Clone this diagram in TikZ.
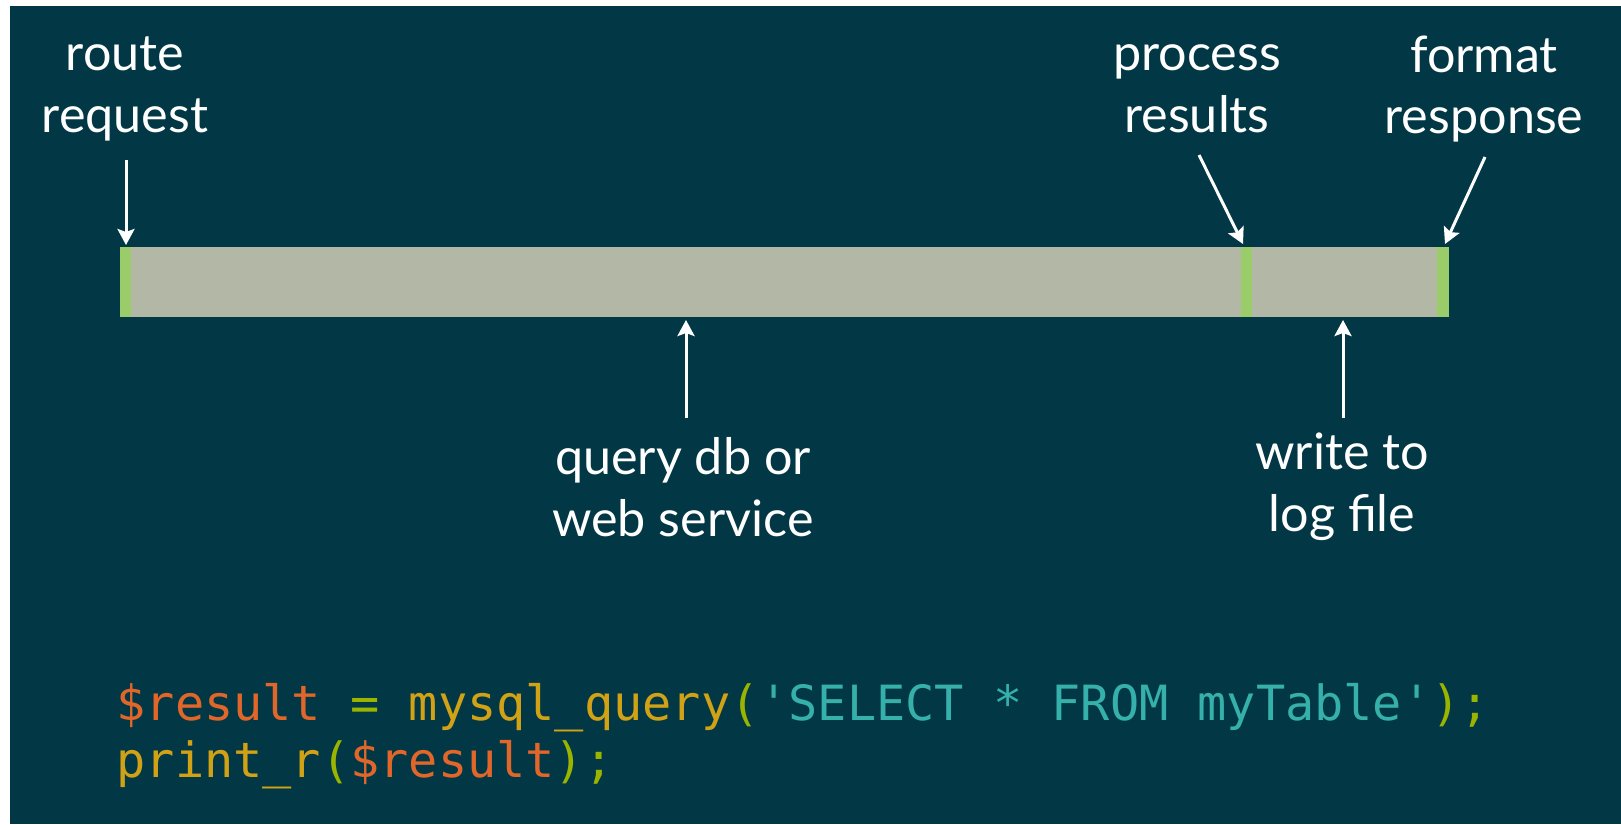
\documentclass[tikz,border=0pt]{standalone}
\usepackage{fontspec}
\setmainfont{Lato}
\setmonofont{DejaVu Sans Mono}
\usetikzlibrary{arrows.meta}

\definecolor{slide}{HTML}{023845}
\definecolor{barfill}{HTML}{B3B8A6}
\definecolor{tick}{HTML}{9ACD6A}
\definecolor{phpvar}{HTML}{E0662A}
\definecolor{phpfunc}{HTML}{D1A216}
\definecolor{phpstr}{HTML}{35B0AA}
\definecolor{phpop}{HTML}{9AB400}
\newcommand{\sq}{\char"27\relax}

\tikzstyle{label}=[text=white, align=center, inner sep=0pt, font=\fontsize{14.3}{17.6}\selectfont]
\tikzstyle{code}=[anchor=base west, inner sep=0pt, font=\ttfamily\fontsize{13.8}{16}\selectfont]
\tikzstyle{pointer}=[draw=white, line width=0.03cm, -{Stealth[length=0.16cm, width=0.17cm, inset=0.03cm]}]

\begin{document}
\begin{tikzpicture}[x=0.01cm,y=-0.01cm]
\useasboundingbox (0,0) rectangle (1621,824);
\fill[white] (0,0) rectangle (1621,824);
\fill[slide] (10,6) rectangle (1621,824);

\fill[barfill] (120,247) rectangle (1449,317);
\fill[tick] (120,247) rectangle (131,317);
\fill[tick] (1241,247) rectangle (1252,317);
\fill[tick] (1437,247) rectangle (1449,317);

\node[label] (route) at (125,89) {route\\request};
\coordinate (routefrom) at (126,160);
\coordinate (routeto) at (126,245);
\draw[pointer] (routefrom) to (routeto);

\node[label] (process) at (1197,89) {process\\results};
\coordinate (processfrom) at (1199,155);
\coordinate (processto) at (1243,244);
\draw[pointer] (processfrom) to (processto);

\node[label] (format) at (1484,89) {format\\response};
\coordinate (formatfrom) at (1485,157);
\coordinate (formatto) at (1445,244);
\draw[pointer] (formatfrom) to (formatto);

\node[label] (query) at (683,487) {query db or\\web service};
\coordinate (queryfrom) at (686,418);
\coordinate (queryto) at (686,320);
\draw[pointer] (queryfrom) to (queryto);

\node[label] (writelog) at (1342,487) {write to\\log file};
\coordinate (writefrom) at (1343,418);
\coordinate (writeto) at (1343,320);
\draw[pointer] (writefrom) to (writeto);

\node[code] (line1) at (116,720) {\textcolor{phpvar}{\$result} \textcolor{phpop}{=} \textcolor{phpfunc}{mysql\_query}\textcolor{phpop}{(}\textcolor{phpstr}{\sq SELECT * FROM myTable\sq}\textcolor{phpop}{);}};
\node[code] (line2) at (116,777) {\textcolor{phpfunc}{print\_r}\textcolor{phpop}{(}\textcolor{phpvar}{\$result}\textcolor{phpop}{);}};
\end{tikzpicture}
\end{document}
